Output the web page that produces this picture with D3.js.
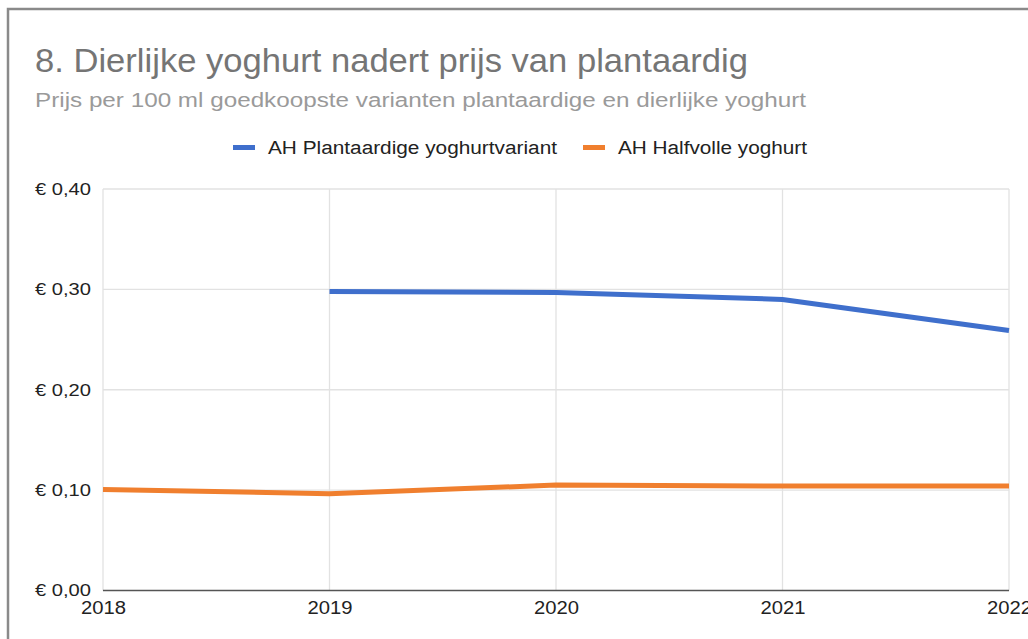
<!DOCTYPE html>
<html>
<head>
<meta charset="utf-8">
<script src="https://cdn.jsdelivr.net/npm/d3@7"></script>
<style>
  html, body { margin: 0; padding: 0; background: #fff; }
  svg { display: block; font-family: "Liberation Sans", Arial, sans-serif; }
</style>
</head>
<body>
<svg id="chart" width="1028" height="639"></svg>
<script>
/* ---- data ---- */
const years      = [2018, 2019, 2020, 2021, 2022];
const plantaard  = [null, 0.298, 0.297, 0.290, 0.259];
const halfvol    = [0.1005, 0.0965, 0.105, 0.104, 0.104];
const yTicks     = [0, 0.1, 0.2, 0.3, 0.4];
const seriesName = ["AH Plantaardige yoghurtvariant", "AH Halfvolle yoghurt"];
const colors     = ["#3f6fcc", "#f07f2e"];

/* ---- setup ---- */
const svg = d3.select("#chart");
const M = {left: 103, right: 1009, top: 189, bottom: 590.5};

const x = d3.scaleLinear().domain([2018, 2022]).range([M.left, M.right]);
const y = d3.scaleLinear().domain([0, 0.4]).range([M.bottom, M.top]);

// frame
svg.append("path")
   .attr("d", `M8,639 V9 H1028`)
   .attr("fill", "none").attr("stroke", "#8a8a8a").attr("stroke-width", 2.5);

// titles (reference is stretched sideways a bit, so widths are fixed)
svg.append("text").attr("x", 35).attr("y", 72)
   .attr("font-size", 34).attr("fill", "#757575")
   .attr("textLength", 713).attr("lengthAdjust", "spacingAndGlyphs")
   .text("8. Dierlijke yoghurt nadert prijs van plantaardig");
svg.append("text").attr("x", 35).attr("y", 107)
   .attr("font-size", 20).attr("fill", "#9a9a9a")
   .attr("textLength", 771).attr("lengthAdjust", "spacingAndGlyphs")
   .text("Prijs per 100 ml goedkoopste varianten plantaardige en dierlijke yoghurt");

// legend
const legX = [233, 583];
const legW = [289, 189];
seriesName.forEach((n, i) => {
  svg.append("rect").attr("x", legX[i]).attr("y", 145).attr("width", 22).attr("height", 5)
     .attr("fill", colors[i]);
  svg.append("text").attr("x", legX[i] + 35).attr("y", 154)
     .attr("font-size", 18).attr("fill", "#222")
     .attr("textLength", legW[i]).attr("lengthAdjust", "spacingAndGlyphs")
     .text(n);
});

// grid
const grid = svg.append("g");
grid.selectAll("line.h").data(yTicks.filter(d => d > 0)).join("line")
    .attr("x1", M.left).attr("x2", M.right)
    .attr("y1", d => y(d)).attr("y2", d => y(d))
    .attr("stroke", "#e2e2e2").attr("stroke-width", 1.3);
grid.selectAll("line.v").data(years).join("line")
    .attr("x1", d => x(d)).attr("x2", d => x(d))
    .attr("y1", M.top).attr("y2", M.bottom)
    .attr("stroke", "#e2e2e2").attr("stroke-width", 1.3);

// y axis labels
const fmt = d => "€ " + d3.format(".2f")(d).replace(".", ",");
const yAxis = svg.append("g").attr("transform", `translate(${M.left},0)`)
   .call(d3.axisLeft(y).tickValues(yTicks).tickFormat(fmt).tickSize(0).tickPadding(12));
yAxis.select(".domain").remove();
yAxis.selectAll("text").attr("font-size", 17).attr("fill", "#222")
     .attr("font-family", "Liberation Sans, Arial, sans-serif")
     .attr("textLength", 56).attr("lengthAdjust", "spacingAndGlyphs");

// x axis labels
const xAxis = svg.append("g").attr("transform", `translate(0,${M.bottom})`)
   .call(d3.axisBottom(x).tickValues(years).tickFormat(d3.format("d")).tickSize(0).tickPadding(11));
xAxis.select(".domain").remove();
xAxis.selectAll("text").attr("font-size", 18).attr("fill", "#222")
     .attr("font-family", "Liberation Sans, Arial, sans-serif")
     .attr("textLength", 45).attr("lengthAdjust", "spacingAndGlyphs");

// baseline
svg.append("line").attr("x1", M.left).attr("x2", M.right)
   .attr("y1", y(0)).attr("y2", y(0))
   .attr("stroke", "#555").attr("stroke-width", 1.5);

// lines
const line = d3.line()
   .defined(d => d.v != null)
   .x(d => x(d.year)).y(d => y(d.v));

[plantaard, halfvol].forEach((vals, i) => {
  const pts = years.map((yr, k) => ({year: yr, v: vals[k]}));
  svg.append("path").datum(pts)
     .attr("d", line)
     .attr("fill", "none")
     .attr("stroke", colors[i])
     .attr("stroke-width", 5)
     .attr("stroke-linejoin", "round");
});
</script>
</body>
</html>
